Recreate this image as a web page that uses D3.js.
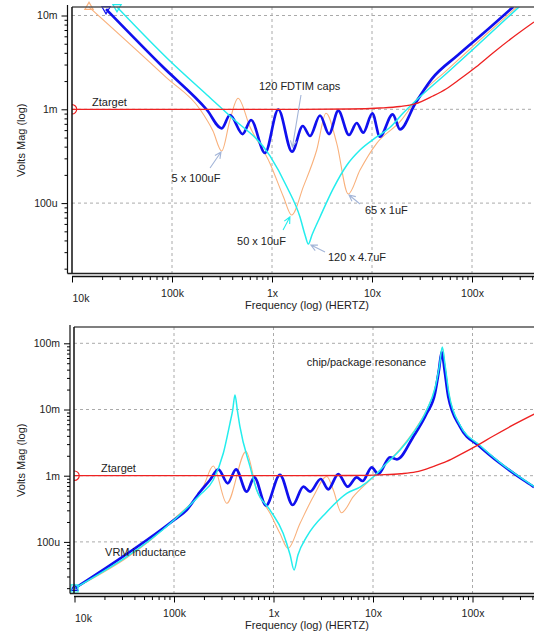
<!DOCTYPE html>
<html>
<head>
<meta charset="utf-8">
<script src="https://cdn.jsdelivr.net/npm/d3@7/dist/d3.min.js"></script>
<style>
  body { margin: 0; background: #fff; }
  svg { display: block; font-family: "Liberation Sans", Arial, Helvetica, sans-serif; }
</style>
</head>
<body>
<svg id="chart" width="534" height="635"></svg>
<script>
// ---- data: [frequency (Hz), impedance magnitude (ohm)] ----
const X_TICKS  = [1e4, 1e5, 1e6, 1e7, 1e8];
const X_LABELS = ["10k", "100k", "1x", "10x", "100x"];
const TOP_Y_TICKS  = [1e-4, 1e-3, 1e-2];
const TOP_Y_LABELS = ["100u", "1m", "10m"];
const BOT_Y_TICKS  = [1e-4, 1e-3, 1e-2, 1e-1];
const BOT_Y_LABELS = ["100u", "1m", "10m", "100m"];

// Ztarget (same curve in both panels)
const TARGET = [
  [1e4, 1e-3], [1.905e6, 1e-3], [6.03e6, 1.007e-3], [1.20e7, 1.032e-3], [1.905e7, 1.071e-3],
  [2.69e7, 1.139e-3], [4.07e7, 1.386e-3], [5.50e7, 1.646e-3], [7.59e7, 2.10e-3],
  [1.096e8, 2.82e-3], [1.62e8, 3.98e-3], [2.51e8, 5.75e-3], [4.17e8, 8.52e-3]
];

// top panel: cap banks without package
const TOP_ORANGE = [
  [1.48e4, 1.23e-2], [8.85e4, 2.16e-3], [1.905e5, 1.0e-3], [2.57e5, 5.87e-4], [3.14e5, 3.59e-4],
  [3.80e5, 7.69e-4], [4.57e5, 1.31e-3], [6.03e5, 6.47e-4], [9.55e5, 2.65e-4], [1.30e6, 1.17e-4],
  [1.57e6, 7.46e-5], [2.06e6, 1.50e-4], [2.80e6, 3.68e-4], [3.47e6, 9.06e-4], [4.44e6, 4.34e-4],
  [5.79e6, 1.25e-4], [7.59e6, 2.25e-4], [1.114e7, 4.34e-4], [1.905e7, 7.38e-4], [3.02e7, 1.42e-3],
  [5.62e7, 2.62e-3], [1.20e8, 5.48e-3], [2.82e8, 1.24e-2]
];
const TOP_CYAN = [
  [2.82e4, 1.23e-2], [9.55e4, 3.27e-3], [2.24e5, 1.42e-3], [3.80e5, 8.48e-4], [9.55e5, 3.18e-4],
  [1.41e6, 1.486e-4], [1.905e6, 7.11e-5], [2.14e6, 4.57e-5], [2.31e6, 3.66e-5], [2.51e6, 4.57e-5],
  [3.02e6, 7.11e-5], [4.07e6, 1.41e-4], [5.62e6, 2.55e-4], [7.59e6, 3.68e-4], [1.114e7, 5.07e-4],
  [1.51e7, 6.40e-4], [2.04e7, 9.06e-4], [3.02e7, 1.36e-3], [5.62e7, 2.44e-3], [1.20e8, 5.09e-3],
  [3.02e8, 1.26e-2]
];
const TOP_BLUE = [
  [2.19e4, 1.17e-2], [8.13e4, 2.82e-3], [2.24e5, 9.83e-4], [3.14e5, 6.27e-4], [3.80e5, 8.69e-4],
  [5.09e5, 5.45e-4], [6.17e5, 7.69e-4], [8.51e5, 3.42e-4], [1.156e6, 9.95e-4], [1.585e6, 3.53e-4],
  [2.03e6, 6.64e-4], [2.40e6, 5.19e-4], [3.02e6, 8.59e-4], [3.72e6, 5.45e-4], [4.60e6, 9.66e-4],
  [5.89e6, 5.32e-4], [7.03e6, 7.14e-4], [8.18e6, 5.64e-4], [1.007e7, 9.06e-4], [1.20e7, 5.11e-4],
  [1.61e7, 8.85e-4], [1.905e7, 6.12e-4], [2.69e7, 1.139e-3], [3.95e7, 2.10e-3], [7.24e7, 3.79e-3],
  [1.29e8, 6.43e-3], [2.59e8, 1.24e-2]
];

// bottom panel: with VRM inductance and chip/package resonance
const BOT_ORANGE = [
  [1.0e4, 1.98e-5], [1.0e5, 2.22e-4], [1.97e5, 6.82e-4], [2.48e5, 1.40e-3], [3.39e5, 3.83e-4],
  [5.29e5, 2.31e-3], [6.78e5, 6.08e-4], [9.23e5, 2.70e-4], [1.16e6, 1.35e-4], [1.40e6, 8.00e-5],
  [1.85e6, 1.91e-4], [2.51e6, 4.82e-4], [3.43e6, 9.72e-4], [3.99e6, 6.08e-4], [4.82e6, 2.76e-4],
  [6.34e6, 4.82e-4], [9.33e6, 8.61e-4], [1.37e7, 1.54e-3], [1.87e7, 2.53e-3], [2.54e7, 4.57e-3],
  [3.47e7, 1.0e-2], [4.20e7, 2.11e-2], [4.66e7, 4.86e-2], [4.97e7, 8.49e-2], [5.30e7, 4.70e-2],
  [5.81e7, 1.71e-2], [7.48e7, 5.73e-3], [1.19e8, 2.81e-3], [1.89e8, 1.56e-3], [3.24e8, 8.61e-4],
  [4.15e8, 6.74e-4]
];
const BOT_CYAN = [
  [1.0e4, 1.98e-5], [1.0e5, 2.14e-4], [1.82e5, 5.11e-4], [2.48e5, 8.61e-4], [3.13e5, 2.18e-3],
  [3.65e5, 6.19e-3], [3.89e5, 9.82e-3], [4.10e5, 1.66e-2], [4.33e5, 9.82e-3], [4.60e5, 5.50e-3],
  [5.81e5, 1.37e-3], [6.78e5, 6.08e-4], [9.23e5, 3.03e-4], [1.25e6, 1.35e-4], [1.47e6, 6.34e-5],
  [1.61e6, 3.77e-5], [1.76e6, 6.34e-5], [2.16e6, 1.20e-4], [3.43e6, 2.83e-4], [5.45e6, 5.42e-4],
  [7.40e6, 6.74e-4], [1.01e7, 9.66e-4], [1.37e7, 1.54e-3], [1.87e7, 2.44e-3], [2.54e7, 4.42e-3],
  [3.47e7, 9.82e-3], [4.20e7, 2.11e-2], [4.66e7, 4.70e-2], [4.97e7, 8.79e-2], [5.30e7, 4.70e-2],
  [5.81e7, 1.71e-2], [7.48e7, 5.83e-3], [1.19e8, 2.86e-3], [1.89e8, 1.58e-3], [3.24e8, 8.77e-4],
  [4.15e8, 6.87e-4]
];
const BOT_BLUE = [
  [1.0e4, 1.98e-5], [1.0e5, 2.14e-4], [1.34e5, 3.03e-4], [1.82e5, 5.67e-4], [2.30e5, 8.61e-4],
  [2.79e5, 1.25e-3], [3.47e5, 7.68e-4], [4.20e5, 1.25e-3], [5.38e5, 5.73e-4], [6.41e5, 9.46e-4],
  [8.41e5, 3.55e-4], [1.16e6, 1.03e-3], [1.56e6, 3.61e-4], [2.00e6, 6.82e-4], [2.33e6, 5.73e-4],
  [2.98e6, 8.91e-4], [3.55e6, 6.23e-4], [4.48e6, 1.06e-3], [5.57e6, 6.82e-4], [6.85e6, 9.46e-4],
  [7.87e6, 8.32e-4], [9.70e6, 1.34e-3], [1.13e7, 1.06e-3], [1.48e7, 1.90e-3], [1.74e7, 1.77e-3],
  [2.54e7, 3.88e-3], [3.47e7, 8.77e-3], [4.20e7, 1.76e-2], [4.60e7, 3.95e-2], [4.90e7, 7.46e-2],
  [5.24e7, 3.95e-2], [5.71e7, 1.56e-2], [7.48e7, 5.50e-3], [1.19e8, 2.74e-3], [1.89e8, 1.54e-3],
  [3.24e8, 8.61e-4], [4.15e8, 6.74e-4]
];

// annotations: text anchor + optional arrow (from -> to), all in data units
const TOP_NOTES = [
  { text: "Ztarget", f: 1.585e4, z: 1.084e-3 },
  { text: "120 FDTIM caps", f: 7.41e5, z: 1.61e-3, from: [1.95e6, 1.42e-3], to: [1.60e6, 3.96e-4] },
  { text: "5 x 100uF", f: 9.89e4, z: 1.68e-4, from: [2.40e5, 2.37e-4], to: [3.09e5, 3.51e-4] },
  { text: "50 x 10uF", f: 4.47e5, z: 3.57e-5, from: [1.29e6, 5.16e-5], to: [1.51e6, 7.11e-5], cyan: true },
  { text: "65 x 1uF", f: 8.51e6, z: 7.56e-5, from: [7.59e6, 9.78e-5], to: [5.89e6, 1.22e-4] },
  { text: "120 x 4.7uF", f: 3.63e6, z: 2.44e-5, from: [3.39e6, 3.01e-5], to: [2.45e6, 3.57e-5] }
];
const BOT_NOTES = [
  { text: "Ztarget", f: 1.85e4, z: 1.157e-3 },
  { text: "chip/package resonance", f: 2.16e6, z: 4.54e-2 },
  { text: "VRM inductance", f: 2.03e4, z: 6.03e-5 }
];

const W = 534;
const COLORS = { orange: "#f9b17c", blue: "#1010ee", cyan: "#24eded", red: "#ee2222", note: "#a3b5d8" };

const svg = d3.select("#chart");

function drawPanel(P) {
  const x = d3.scaleLog().domain([1e4, 1e8]).range(P.xRange);
  const y = d3.scaleLog().domain(P.yDomain).range(P.yRange);
  const g = svg.append("g");

  svg.append("clipPath").attr("id", "clip-" + P.id)
    .append("rect")
    .attr("x", P.left).attr("y", P.top)
    .attr("width", W - P.left).attr("height", P.bottom - P.top);

  // dashed grid at decades
  g.selectAll(".vgrid").data(X_TICKS.slice(1)).join("line").attr("class", "vgrid")
    .attr("x1", d => x(d)).attr("x2", d => x(d))
    .attr("y1", P.top).attr("y2", P.bottom)
    .attr("stroke", "#aaa").attr("stroke-dasharray", "3,3");
  g.selectAll(".hgrid").data(P.yTicks).join("line").attr("class", "hgrid")
    .attr("x1", P.left).attr("x2", W)
    .attr("y1", d => y(d)).attr("y2", d => y(d))
    .attr("stroke", "#aaa").attr("stroke-dasharray", "3,3");

  // curves
  const line = d3.line().x(d => x(d[0])).y(d => y(d[1])).curve(d3.curveMonotoneX);
  const plot = g.append("g").attr("clip-path", `url(#clip-${P.id})`);
  P.series.forEach(s => {
    plot.append("path").datum(s.data)
      .attr("d", line)
      .attr("fill", "none")
      .attr("stroke", s.color)
      .attr("stroke-width", s.width)
      .attr("stroke-linejoin", "round");
  });

  // start markers
  P.markers.forEach(m => {
    const d0 = m.data[0];
    (m.clip ? plot : g).append("path")
      .attr("d", d3.symbol().type(m.type).size(m.size)())
      .attr("transform", `translate(${x(d0[0])},${y(d0[1])}) rotate(${m.rotate || 0})`)
      .attr("fill", "none").attr("stroke", m.color).attr("stroke-width", 1.2);
  });

  // frame
  g.append("line").attr("x1", P.left).attr("x2", W).attr("y1", P.top).attr("y2", P.top)
    .attr("stroke", "#555").attr("stroke-width", 1.6);
  g.append("line").attr("x1", P.left).attr("x2", P.left).attr("y1", P.top).attr("y2", P.bottom)
    .attr("stroke", "#111").attr("stroke-width", 1.5);
  g.append("line").attr("x1", P.yAxisX).attr("x2", W).attr("y1", P.bottom).attr("y2", P.bottom)
    .attr("stroke", "#222").attr("stroke-width", 1.3);

  // Y axis (log minor ticks + labelled decades)
  const yMinor = [];
  for (let e = -6; e <= 0; e++) {
    for (let k = 2; k <= 9; k++) {
      const v = k * Math.pow(10, e);
      if (y(v) >= P.top && y(v) <= P.bottom) yMinor.push(v);
    }
  }
  g.append("line").attr("x1", P.yAxisX).attr("x2", P.yAxisX)
    .attr("y1", P.top - 2).attr("y2", P.bottom).attr("stroke", "#111").attr("stroke-width", 1.2);
  g.append("g").attr("transform", `translate(${P.yAxisX},0)`)
    .call(d3.axisLeft(y).tickValues(yMinor).tickSize(3).tickFormat(""))
    .call(a => a.select(".domain").remove());
  g.append("g").attr("transform", `translate(${P.yAxisX},0)`)
    .call(d3.axisLeft(y).tickValues(P.yTicks).tickSize(6).tickPadding(4)
      .tickFormat(d => P.yLabels[P.yTicks.indexOf(d)]))
    .call(a => a.select(".domain").remove())
    .call(a => a.attr("font-family", null).attr("font-size", 10.5))
    .call(a => a.selectAll(".tick text").attr("fill", "#222"));

  // X axis
  const xMinor = [];
  for (let e = 4; e <= 8; e++) {
    for (let k = 2; k <= 9; k++) {
      const v = k * Math.pow(10, e);
      if (x(v) <= W) xMinor.push(v);
    }
  }
  g.append("line").attr("x1", P.left).attr("x2", W).attr("y1", P.xAxisY).attr("y2", P.xAxisY)
    .attr("stroke", "#111").attr("stroke-width", 1.4);
  g.append("g").attr("transform", `translate(0,${P.xAxisY})`)
    .call(d3.axisBottom(x).tickValues(xMinor).tickSize(3.5).tickFormat(""))
    .call(a => a.select(".domain").remove());
  g.append("g").attr("transform", `translate(0,${P.xAxisY})`)
    .call(d3.axisBottom(x).tickValues(X_TICKS).tickSize(6).tickPadding(7)
      .tickFormat(d => X_LABELS[X_TICKS.indexOf(d)]))
    .call(a => a.select(".domain").remove())
    .call(a => a.attr("font-family", null).attr("font-size", 10.5))
    .call(a => a.selectAll(".tick text").attr("fill", "#222"))
    .call(a => a.selectAll(".tick text").filter(d => d === 1e4)
      .attr("text-anchor", "start").attr("y", 18));

  // axis titles
  g.append("text")
    .attr("x", 307).attr("y", P.xAxisY + 32.5)
    .attr("text-anchor", "middle").attr("font-size", 11).attr("fill", "#222")
    .text("Frequency (log) (HERTZ)");
  g.append("text")
    .attr("transform", `translate(25,${(P.top + P.bottom) / 2}) rotate(-90)`)
    .attr("text-anchor", "middle").attr("font-size", 11).attr("fill", "#222")
    .text("Volts Mag (log)");

  // annotations
  P.notes.forEach(n => {
    g.append("text")
      .attr("x", x(n.f)).attr("y", y(n.z))
      .attr("font-size", 11).attr("fill", "#222")
      .text(n.text);
    if (!n.from) return;
    const x1 = x(n.from[0]), y1 = y(n.from[1]);
    const x2 = x(n.to[0]),   y2 = y(n.to[1]);
    const ang = Math.atan2(y2 - y1, x2 - x1);
    const h = 7, spread = 0.45;
    const p = d3.path();
    p.moveTo(x1, y1); p.lineTo(x2, y2);
    p.moveTo(x2 - h * Math.cos(ang - spread), y2 - h * Math.sin(ang - spread));
    p.lineTo(x2, y2);
    p.lineTo(x2 - h * Math.cos(ang + spread), y2 - h * Math.sin(ang + spread));
    g.append("path").attr("d", p.toString())
      .attr("fill", "none")
      .attr("stroke", n.cyan ? COLORS.cyan : COLORS.note)
      .attr("stroke-width", 1.1);
  });
}

drawPanel({
  id: "top", left: 72, top: 7, bottom: 273.5,
  xRange: [72, 472], yDomain: [1e-4, 1e-2], yRange: [203.1, 15.5],
  yAxisX: 67.5, xAxisY: 276.5,
  yTicks: TOP_Y_TICKS, yLabels: TOP_Y_LABELS,
  series: [
    { data: TOP_ORANGE, color: COLORS.orange, width: 1.1 },
    { data: TOP_BLUE,   color: COLORS.blue,   width: 2.7 },
    { data: TOP_CYAN,   color: COLORS.cyan,   width: 1.5 },
    { data: TARGET,     color: COLORS.red,    width: 1.3 }
  ],
  markers: [
    { data: TOP_ORANGE, type: d3.symbolTriangle, size: 30, color: COLORS.orange },
    { data: TOP_BLUE,   type: d3.symbolTriangle, size: 30, rotate: 180, color: COLORS.blue },
    { data: TOP_CYAN,   type: d3.symbolTriangle, size: 30, rotate: 180, color: COLORS.cyan },
    { data: TARGET,     type: d3.symbolCircle,   size: 70, color: COLORS.red, clip: true }
  ],
  notes: TOP_NOTES
});

drawPanel({
  id: "bot", left: 74, top: 327, bottom: 593.5,
  xRange: [74.5, 472.5], yDomain: [1e-4, 1e-1], yRange: [541.9, 343.3],
  yAxisX: 70, xAxisY: 596.5,
  yTicks: BOT_Y_TICKS, yLabels: BOT_Y_LABELS,
  series: [
    { data: BOT_ORANGE, color: COLORS.orange, width: 1.1 },
    { data: BOT_BLUE,   color: COLORS.blue,   width: 2.7 },
    { data: BOT_CYAN,   color: COLORS.cyan,   width: 1.5 },
    { data: TARGET,     color: COLORS.red,    width: 1.3 }
  ],
  markers: [
    { data: BOT_BLUE,   type: d3.symbolTriangle, size: 20, color: COLORS.blue },
    { data: BOT_CYAN,   type: d3.symbolSquare,   size: 50, color: COLORS.cyan },
    { data: TARGET,     type: d3.symbolCircle,   size: 70, color: COLORS.red, clip: true }
  ],
  notes: BOT_NOTES
});
</script>
</body>
</html>
